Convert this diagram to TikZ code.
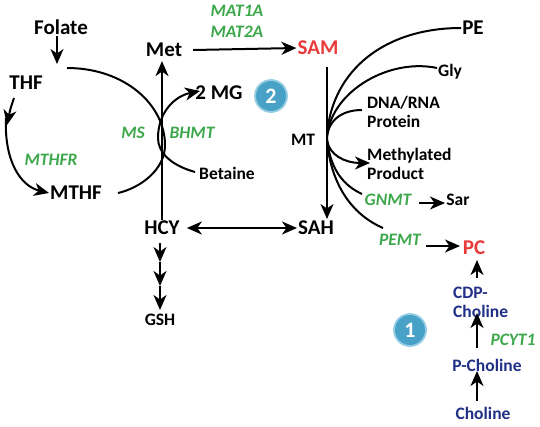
\documentclass[tikz,border=0pt]{standalone}
\usepackage{fontspec}
\setmainfont{Carlito}
\usetikzlibrary{arrows.meta}
\definecolor{enzgreen}{RGB}{60,168,75}
\definecolor{samred}{RGB}{232,58,58}
\definecolor{cholblue}{RGB}{32,48,135}
\definecolor{badgeblue}{RGB}{72,162,200}
\definecolor{badgering}{RGB}{150,205,228}
\begin{document}
\begin{tikzpicture}[x=1pt,y=-1pt,
  lab/.style={font=\bfseries\fontsize{21}{22}\selectfont, inner sep=1pt},
  sml/.style={font=\bfseries\fontsize{17.5}{19}\selectfont, inner sep=1pt, align=left},
  enz/.style={font=\bfseries\itshape\fontsize{17.5}{18}\selectfont, text=enzgreen, inner sep=1pt},
  ln/.style={line width=2pt},
  tip/.tip={Stealth[length=15pt,width=13pt,inset=4.5pt]},
  arr/.style={line width=2pt, -tip},
  darr/.style={line width=2pt, tip-tip},
  badge/.style={circle, fill=badgeblue, draw=badgering, line width=1.8pt, minimum size=32pt, text=white, font=\bfseries\fontsize{22}{22}\selectfont, inner sep=0pt}
]
\useasboundingbox (0,0) rectangle (540,426);

% nodes
\node[lab] (folate) at (61,27) {Folate};
\node[lab] (thf) at (26,83) {THF};
\node[lab] (mthf) at (76,193) {MTHF};
\node[lab] (met) at (164,50) {Met};
\node[lab, text=samred] (sam) at (318,48) {SAM};
\node[lab] (mg) at (219,93) {2 MG};
\node[sml] (betaine) at (227,173) {Betaine};
\node[lab] (hcy) at (162,228) {HCY};
\node[lab] (sah) at (316,228) {SAH};
\node[sml] (gsh) at (160,320) {GSH};
\node[sml] (mt) at (303,140) {MT};
\node[lab] (pe) at (473,28) {PE};
\node[sml] (gly) at (450,72) {Gly};
\node[sml, anchor=west] (dna) at (366,112) {DNA/RNA\\Protein};
\node[sml, anchor=west] (meth) at (366,164) {Methylated\\Product};
\node[enz] (gnmt) at (388,200) {GNMT};
\node[sml] (sar) at (458,200) {Sar};
\node[enz] (pemt) at (400,240) {PEMT};
\node[lab, text=samred] (pc) at (474,248) {PC};
\node[sml, text=cholblue, anchor=west] (cdp) at (452,302) {CDP-\\Choline};
\node[sml, text=cholblue] (pchol) at (487,365) {P-Choline};
\node[sml, text=cholblue] (chol) at (483,413) {Choline};
\node[enz] (pcyt) at (513,340) {PCYT1};
\node[enz] (ms) at (133,133) {MS};
\node[enz] (bhmt) at (192,133) {BHMT};
\node[enz] (mthfr) at (51,160) {MTHFR};
\node[enz] (mat1) at (237,11) {MAT1A};
\node[enz] (mat2) at (237,32) {MAT2A};
\node[badge] (b2) at (271,96) {2};
\node[badge] (b1) at (410,330) {1};

% coordinates
\coordinate (fa) at (57,64);
\coordinate (t1) at (14,98);
\coordinate (t2) at (7,125);
\coordinate (t3) at (6,118);
\coordinate (msS) at (67,68);
\coordinate (msE) at (118,193);
\coordinate (bhS) at (195,172);
\coordinate (bhE) at (200,91);
\coordinate (mtTop) at (327,67);
\coordinate (mtBot) at (327,219);
\coordinate (jA) at (327,135);
\coordinate (jB) at (327,140);
\coordinate (peE) at (461,28);
\coordinate (glyE) at (437,68);
\coordinate (dnaE) at (362,110);
\coordinate (methE) at (370,163);
\coordinate (gnE) at (362,194);
\coordinate (pmE) at (383,228);
\coordinate (g1) at (160,243);
\coordinate (g2) at (160,262);
\coordinate (g3) at (160,286);
\coordinate (g4) at (160,310);
\coordinate (pcA) at (426,246);
\coordinate (pcB) at (460,246);
\coordinate (sarA) at (419,203);
\coordinate (sarB) at (445,203);
\coordinate (cA) at (477,278);
\coordinate (cB) at (477,260);
\coordinate (pA) at (477,348);
\coordinate (pB) at (477,313);
\coordinate (hA) at (477,401);
\coordinate (hB) at (477,371);

% folate cycle
\draw[arr] ([xshift=-4pt]folate.south) -- (fa);
\draw[arr] (t1) .. controls (10,110) .. (t2);
\draw[arr] (t3) .. controls (4,160) and (20,186) .. (49,193);
\draw[ln] (msS) .. controls (125,68) and (165,105) .. (165,145) .. controls (165,170) and (140,188) .. (msE);
\draw[arr] (bhS) .. controls (170,165) and (158,152) .. (158,138) .. controls (158,112) and (175,96) .. (bhE);

% Met axis
\draw[arr] (hcy.north) -- ([yshift=-3pt]hcy.north |- met.south);
\draw[arr] ([xshift=10pt]met.east) -- (sam.west);
\draw[arr] (mtTop) -- (mtBot);
\draw[darr, shorten <=6pt] (hcy.east) -- (sah.west);

% GSH
\draw[arr] (g1) -- (g2);
\draw[arr] (g2) -- (g3);
\draw[arr] (g3) -- (g4);

% methyltransferase fan
\draw[ln] (jA) .. controls (332,70) and (385,28) .. (peE);
\draw[ln] (jA) .. controls (333,90) and (390,58) .. (glyE);
\draw[ln] (dnaE) .. controls (340,110) and (327,122) .. (jB);
\draw[arr] (jB) .. controls (329,155) and (345,163) .. (methE);
\draw[ln] (jB) .. controls (331,172) and (345,186) .. (gnE);
\draw[ln] (jB) .. controls (331,188) and (355,216) .. (pmE);

\draw[arr] (sarA) -- (sarB);
\draw[arr] (pcA) -- (pcB);

% choline pathway
\draw[arr] (cA) -- (cB);
\draw[arr] (pA) -- (pB);
\draw[arr] (hA) -- (hB);
\end{tikzpicture}
\end{document}
